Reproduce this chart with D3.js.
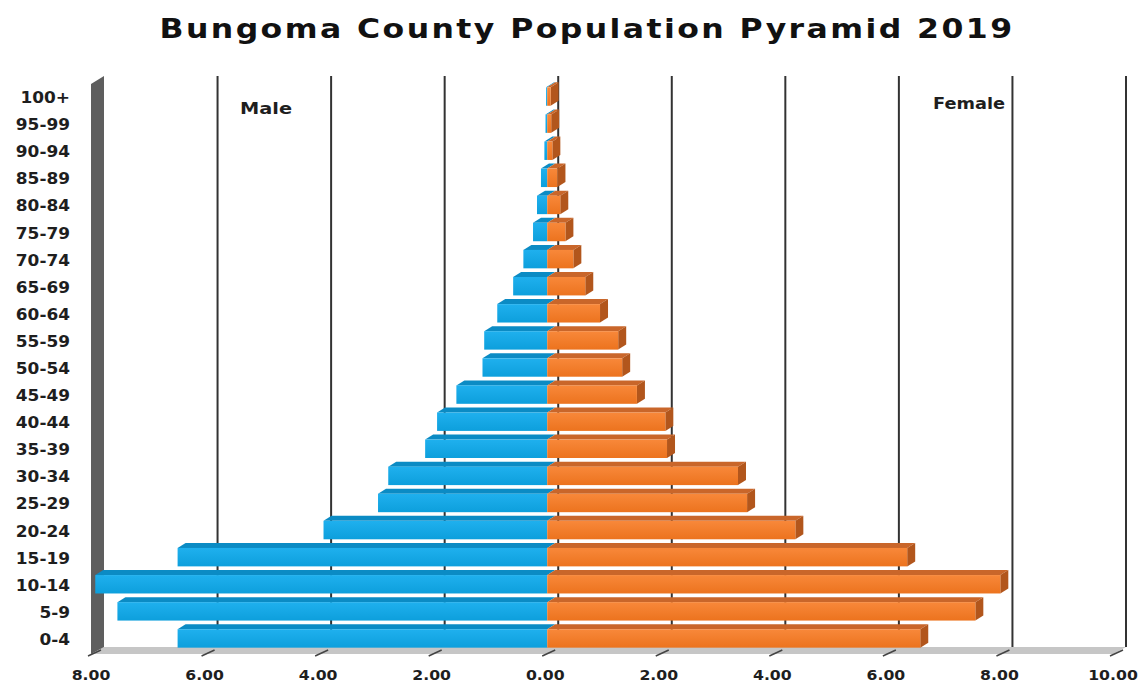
<!DOCTYPE html>
<html>
<head>
<meta charset="utf-8">
<script src="https://cdn.jsdelivr.net/npm/d3@7"></script>
<style>
	body { margin: 0; background: #fff; }
	text { font-family: "DejaVu Sans", Verdana, sans-serif; font-weight: bold; fill: #1e1e1e; }
</style>
</head>
<body>
<svg id="chart" width="1140" height="684"></svg>
<script>
// Age groups, top to bottom
var ageGroups = ['100+', '95-99', '90-94', '85-89', '80-84', '75-79', '70-74', '65-69', '60-64', '55-59',
	'50-54', '45-49', '40-44', '35-39', '30-34', '25-29', '20-24', '15-19', '10-14', '5-9', '0-4'];

// Percent of population, same order as ageGroups
var male = [0.02, 0.03, 0.05, 0.11, 0.18, 0.25, 0.42, 0.60, 0.88, 1.11,
	1.14, 1.60, 1.94, 2.15, 2.80, 2.98, 3.94, 6.51, 7.96, 7.57, 6.51];
var female = [0.06, 0.07, 0.09, 0.18, 0.23, 0.32, 0.46, 0.67, 0.93, 1.25,
	1.32, 1.58, 2.08, 2.11, 3.36, 3.52, 4.37, 6.34, 7.98, 7.54, 6.57];

var xTicks = [-8, -6, -4, -2, 0, 2, 4, 6, 8, 10];

var title = 'Bungoma County Population Pyramid 2019';

// Layout
var svg = d3.select('#chart'),
	depthX = 13, depthY = -7,      // depth of the 3d box
	barDX = 8, barDY = -5,         // depth of each bar
	barOffX = 2, barOffY = -2,     // bars sit a little behind the front plane
	floorY = 654, topY = 85;

var x = d3.scaleLinear().domain([-8, 10]).range([91, 1113]);
var y = d3.scaleBand().domain(ageGroups).range([topY, floorY]).paddingInner(0.32).paddingOuter(0.16);
var bw = y.bandwidth();

var fmt = d3.format('.2f');

// Gradients for bar fronts
var defs = svg.append('defs');
function grad(id, c0, c1) {
	var g = defs.append('linearGradient').attr('id', id).attr('x1', 0).attr('y1', 0).attr('x2', 0).attr('y2', 1);
	g.append('stop').attr('offset', '0%').attr('stop-color', c0);
	g.append('stop').attr('offset', '100%').attr('stop-color', c1);
}
grad('blueFront', '#1fb0ee', '#0d9fdc');
grad('orangeFront', '#f8883a', '#ec731e');

function poly(pts) {
	return pts.map(function(p) { return p[0] + ',' + p[1]; }).join(' ');
}

// Title
svg.append('text')
	.attr('x', 587).attr('y', 38)
	.attr('text-anchor', 'middle')
	.attr('font-size', 26)
	.style('letter-spacing', '2px')
	.style('fill', '#111')
	.attr('textLength', 855)
	.attr('lengthAdjust', 'spacingAndGlyphs')
	.text(title);

// Floor
svg.append('polygon')
	.attr('points', poly([[x(-8), floorY], [x(10), floorY], [x(10) + depthX, floorY + depthY], [x(-8) + depthX, floorY + depthY]]))
	.style('fill', '#c6c6c6');

// Gridlines on the back plane
svg.append('g').selectAll('line')
	.data(xTicks.slice(1))
	.enter().append('line')
	.attr('x1', function(d) { return x(d) + depthX; })
	.attr('x2', function(d) { return x(d) + depthX; })
	.attr('y1', topY + depthY - 2)
	.attr('y2', floorY + depthY)
	.style('stroke', '#333')
	.style('stroke-width', 2);

// Left wall
svg.append('polygon')
	.attr('points', poly([[x(-8), topY - 1], [x(-8) + depthX, topY + depthY - 2], [x(-8) + depthX, floorY + depthY], [x(-8), floorY]]))
	.style('fill', '#5e5e5e');

// Tick marks on the floor
svg.append('g').selectAll('line')
	.data(xTicks)
	.enter().append('line')
	.attr('x1', function(d) { return x(d) - 3; })
	.attr('y1', floorY + 2)
	.attr('x2', function(d) { return x(d) + 10; })
	.attr('y2', floorY - 4)
	.style('stroke', '#444')
	.style('stroke-width', 1.5);

// Bars, drawn from the bottom row up
var rows = ageGroups.map(function(a, i) { return { age: a, m: male[i], f: female[i] }; }).reverse();

var bars = svg.append('g').selectAll('g.row')
	.data(rows)
	.enter().append('g')
	.attr('class', 'row');

function front(d) { return y(d.age) + barOffY; }
var zero = x(0) + barOffX;

// male: top face + front face
bars.append('polygon')
	.attr('points', function(d) {
		var x0 = x(-d.m) + barOffX, t = front(d);
		return poly([[x0, t], [zero, t], [zero + barDX, t + barDY], [x0 + barDX, t + barDY]]);
	})
	.style('fill', '#0b8bc4');
bars.append('rect')
	.attr('x', function(d) { return x(-d.m) + barOffX; })
	.attr('y', front)
	.attr('width', function(d) { return zero - (x(-d.m) + barOffX); })
	.attr('height', bw)
	.style('fill', 'url(#blueFront)');

// female: top face, side face, front face
bars.append('polygon')
	.attr('points', function(d) {
		var x1 = x(d.f) + barOffX, t = front(d);
		return poly([[zero, t], [x1, t], [x1 + barDX, t + barDY], [zero + barDX, t + barDY]]);
	})
	.style('fill', '#c9662a');
bars.append('polygon')
	.attr('points', function(d) {
		var x1 = x(d.f) + barOffX, t = front(d);
		return poly([[x1, t], [x1 + barDX, t + barDY], [x1 + barDX, t + barDY + bw], [x1, t + bw]]);
	})
	.style('fill', '#b2561c');
bars.append('rect')
	.attr('x', zero)
	.attr('y', front)
	.attr('width', function(d) { return x(d.f) + barOffX - zero; })
	.attr('height', bw)
	.style('fill', 'url(#orangeFront)');

// Y axis labels
svg.append('g').selectAll('text')
	.data(ageGroups)
	.enter().append('text')
	.attr('text-anchor', 'end')
	.attr('font-size', 15)
	.attr('transform', function(d) { return 'translate(70,' + (y(d) + bw / 2 + 4.5) + ') scale(1.13,1)'; })
	.text(function(d) { return d; });

// X axis labels
svg.append('g').selectAll('text')
	.data(xTicks)
	.enter().append('text')
	.attr('text-anchor', 'middle')
	.attr('font-size', 14)
	.attr('transform', function(d) { return 'translate(' + x(d) + ',680) scale(1.12,1)'; })
	.text(function(d) { return fmt(Math.abs(d)); });

// Series labels
svg.append('text')
	.attr('x', 240).attr('y', 114)
	.attr('font-size', 15)
	.attr('textLength', 52)
	.attr('lengthAdjust', 'spacingAndGlyphs')
	.text('Male');
svg.append('text')
	.attr('x', 933).attr('y', 109)
	.attr('font-size', 15)
	.attr('textLength', 72)
	.attr('lengthAdjust', 'spacingAndGlyphs')
	.text('Female');
</script>
</body>
</html>
